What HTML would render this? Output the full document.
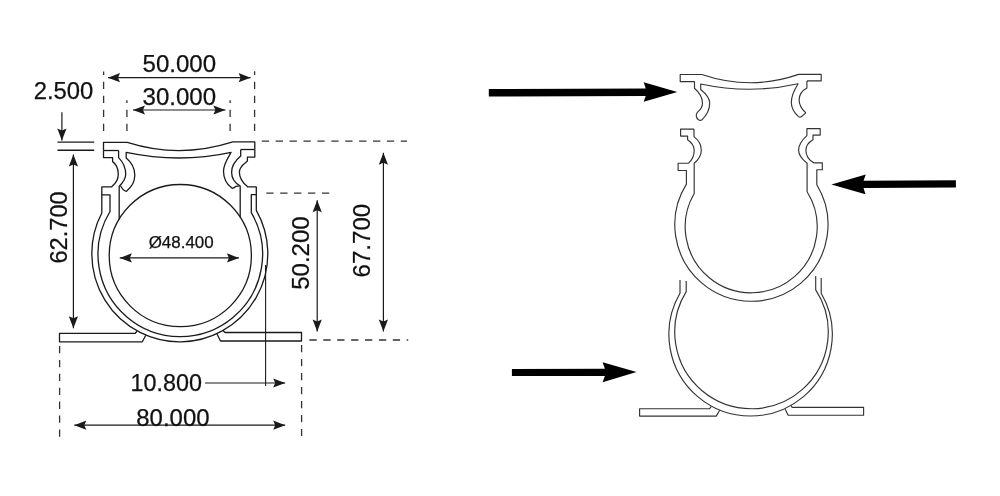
<!DOCTYPE html>
<html><head><meta charset="utf-8"><title>Drawing</title>
<style>
html,body{margin:0;padding:0;background:#fff;width:1000px;height:496px;overflow:hidden;}
svg{display:block;will-change:transform;}
text{font-family:"Liberation Sans",sans-serif;fill:#111;stroke:#111;stroke-width:0.25px;}
</style></head>
<body>
<svg width="1000" height="496" viewBox="0 0 1000 496">
<path d="M103.5 150.5 V142.4 H127.3 Q179.5 159 232.8 141.9 H254.8 V149.5" fill="none" stroke="#1a1a1a" stroke-width="1.3" stroke-linejoin="round"/>
<path d="M103.5 150.5 H118.6" fill="none" stroke="#1a1a1a" stroke-width="1.3" stroke-linejoin="round"/>
<path d="M254.8 149.5 H240.7" fill="none" stroke="#1a1a1a" stroke-width="1.3" stroke-linejoin="round"/>
<path d="M120.5 185.8 C122 188.5 124 191 126.2 191.4 C130.5 188 134.8 182 134.8 175.2 C134.8 168.5 131 162 126.2 158.1 V152.4 Q179.5 163.6 231.1 152.3 C228 158 223.5 164 223.5 171.2 C223.5 178 227 184.5 232.1 188.3 C234 188 235 187.3 236.1 186.3 L239.7 185.8" fill="none" stroke="#1a1a1a" stroke-width="1.3" stroke-linejoin="round"/>
<path d="M118.6 150.5 V157.6 C122.5 161.5 125.7 168 125.7 174.2 C125.7 179 122.5 183 119.2 186.3 V219.54" fill="none" stroke="#1a1a1a" stroke-width="1.3" stroke-linejoin="round"/>
<path d="M240.7 149.5 V156.1 C235.5 160.5 231.6 166 231.6 172.2 C231.6 178 235 183 240.2 186 V217.6" fill="none" stroke="#1a1a1a" stroke-width="1.3" stroke-linejoin="round"/>
<path d="M103.5 150.5 V157.6 H112.6 V161.6 C116 164 118.3 169 118.3 174.2 C118.3 179 115.5 183.5 112.1 186.3 L111.8 186.8 H101.8 V213.06 A88.0 88.0 0 1 0 256.3 210.31 V186.8 H247.5 L247.2 186.3 C242.5 182.5 239.4 177 239.4 172.2 C239.4 168.5 242 165.5 245.7 162.6 L247.4 161.1 V157.1 H254.8 V149.5" fill="none" stroke="#1a1a1a" stroke-width="1.3" stroke-linejoin="round"/>
<path d="M101.8 194.8 H110 V211.51 A82.3 82.3 0 1 0 251.3 212.68 V194.7 H256.3" fill="none" stroke="#1a1a1a" stroke-width="1.3" stroke-linejoin="round"/>
<circle cx="180.3" cy="255.6" r="71.1" fill="none" stroke="#1a1a1a" stroke-width="1.3"/>
<path d="M137 331.3 L135.2 333.3 H59.5 V341.8 H142.3 L145.8 335.3" fill="none" stroke="#1a1a1a" stroke-width="1.3" stroke-linejoin="round"/>
<path d="M223 330.5 L225 332.5 H301.5 V341 H220.5 L217 334" fill="none" stroke="#1a1a1a" stroke-width="1.3" stroke-linejoin="round"/>
<path d="M103.6 71.6 V132" fill="none" stroke="#333" stroke-width="1.3" stroke-dasharray="7.3 6.70" stroke-dashoffset="3.80"/>
<path d="M254.6 71.2 V132" fill="none" stroke="#333" stroke-width="1.3" stroke-dasharray="7.3 6.70" stroke-dashoffset="3.40"/>
<path d="M108 77.7 H250.6" stroke="#1a1a1a" stroke-width="1.2"/>
<path d="M108.00 77.70 L120.00 73.10 L118.00 77.70 L120.00 82.30 Z" fill="#1a1a1a"/>
<path d="M250.60 77.70 L238.60 82.30 L240.60 77.70 L238.60 73.10 Z" fill="#1a1a1a"/>
<path d="M126.9 100.3 V132" fill="none" stroke="#333" stroke-width="1.3" stroke-dasharray="7.3 6.70" stroke-dashoffset="4.50"/>
<path d="M230.1 100.3 V132" fill="none" stroke="#333" stroke-width="1.3" stroke-dasharray="7.3 6.70" stroke-dashoffset="4.50"/>
<path d="M133 110 H225.4" stroke="#1a1a1a" stroke-width="1.2"/>
<path d="M133.00 110.00 L145.00 105.40 L143.00 110.00 L145.00 114.60 Z" fill="#1a1a1a"/>
<path d="M225.40 110.00 L213.40 114.60 L215.40 110.00 L213.40 105.40 Z" fill="#1a1a1a"/>
<path d="M61.9 112.3 V140.5" stroke="#1a1a1a" stroke-width="1.2"/>
<path d="M61.90 140.50 L57.30 128.50 L61.90 130.50 L66.50 128.50 Z" fill="#1a1a1a"/>
<path d="M57.5 142.1 H94.2 M57.5 150.2 H94.2" stroke="#1a1a1a" stroke-width="1.4"/>
<path d="M73.4 154.6 V328.3" stroke="#1a1a1a" stroke-width="1.2"/>
<path d="M73.40 154.60 L78.00 166.60 L73.40 164.60 L68.80 166.60 Z" fill="#1a1a1a"/>
<path d="M73.40 328.30 L68.80 316.30 L73.40 318.30 L78.00 316.30 Z" fill="#1a1a1a"/>
<path d="M119.8 257.9 H238.9" stroke="#1a1a1a" stroke-width="1.2"/>
<path d="M119.80 257.90 L131.80 253.30 L129.80 257.90 L131.80 262.50 Z" fill="#1a1a1a"/>
<path d="M238.90 257.90 L226.90 262.50 L228.90 257.90 L226.90 253.30 Z" fill="#1a1a1a"/>
<path d="M261.8 141.2 H407" fill="none" stroke="#333" stroke-width="1.3" stroke-dasharray="7.3 6.60" stroke-dashoffset="0.00"/>
<path d="M266.3 193.2 H330" fill="none" stroke="#333" stroke-width="1.3" stroke-dasharray="7.3 6.60" stroke-dashoffset="0.00"/>
<path d="M309.4 340 H408.2" fill="none" stroke="#333" stroke-width="1.3" stroke-dasharray="7.3 6.60" stroke-dashoffset="0.00"/>
<path d="M317.2 200.2 V331.5" stroke="#1a1a1a" stroke-width="1.2"/>
<path d="M317.20 200.20 L321.80 212.20 L317.20 210.20 L312.60 212.20 Z" fill="#1a1a1a"/>
<path d="M317.20 331.50 L312.60 319.50 L317.20 321.50 L321.80 319.50 Z" fill="#1a1a1a"/>
<path d="M383.4 152.7 V331.5" stroke="#1a1a1a" stroke-width="1.2"/>
<path d="M383.40 152.70 L388.00 164.70 L383.40 162.70 L378.80 164.70 Z" fill="#1a1a1a"/>
<path d="M383.40 331.50 L378.80 319.50 L383.40 321.50 L388.00 319.50 Z" fill="#1a1a1a"/>
<path d="M265.6 265 V386" stroke="#1a1a1a" stroke-width="1.1"/>
<path d="M205.1 383 H285.2" stroke="#1a1a1a" stroke-width="1.2"/>
<path d="M285.20 383.00 L273.20 387.60 L275.20 383.00 L273.20 378.40 Z" fill="#1a1a1a"/>
<path d="M59.6 346 V437" fill="none" stroke="#333" stroke-width="1.3" stroke-dasharray="7.3 6.60" stroke-dashoffset="0.00"/>
<path d="M301.6 345 V436" fill="none" stroke="#333" stroke-width="1.3" stroke-dasharray="7.3 6.70" stroke-dashoffset="0.00"/>
<path d="M74.3 425.2 H285.2" stroke="#1a1a1a" stroke-width="1.2"/>
<path d="M74.30 425.20 L86.30 420.60 L84.30 425.20 L86.30 429.80 Z" fill="#1a1a1a"/>
<path d="M285.20 425.20 L273.20 429.80 L275.20 425.20 L273.20 420.60 Z" fill="#1a1a1a"/>
<text x="142.5" y="71.5" font-size="23.5" textLength="73.6" lengthAdjust="spacingAndGlyphs">50.000</text>
<text x="142.5" y="105.0" font-size="23.5" textLength="73.6" lengthAdjust="spacingAndGlyphs">30.000</text>
<text x="33.7" y="98.8" font-size="23.5" textLength="59.6" lengthAdjust="spacingAndGlyphs">2.500</text>
<text x="130.5" y="390.6" font-size="23.5" textLength="71.5" lengthAdjust="spacingAndGlyphs">10.800</text>
<text x="136.3" y="425.8" font-size="23.5" textLength="73.3" lengthAdjust="spacingAndGlyphs">80.000</text>
<text x="148.7" y="248.1" font-size="15.6" textLength="65" lengthAdjust="spacingAndGlyphs">&#216;48.400</text>
<text font-size="23.5" textLength="72.4" lengthAdjust="spacingAndGlyphs" transform="translate(67.2 263.6) rotate(-90)">62.700</text>
<text font-size="23.5" textLength="73.4" lengthAdjust="spacingAndGlyphs" transform="translate(309.3 289.8) rotate(-90)">50.200</text>
<text font-size="23.5" textLength="73.6" lengthAdjust="spacingAndGlyphs" transform="translate(370.2 277.4) rotate(-90)">67.700</text>
<path d="M694.5 81.6 H680.2 V74.5 H701.8 Q750.45 91 798.6 74.4 H821.2 V80.9 H806.9" fill="none" stroke="#333" stroke-width="1.15" stroke-linejoin="round"/>
<path d="M694.5 81.6 V88.2 C700 93 702.5 98 702.5 103.2 C702.5 107 700 110 697.6 112.2 C695.5 114.5 696 118 698.5 119.8 C700 120.8 701 120.6 702 119.8 C707 115 709.7 109 709.7 103.1 C709.7 97 705 93 700.7 89.5 V84 Q750.45 94.65 798.1 83.8 C795.5 88 791.3 95 791.3 102.3 C791.3 108 795 113.5 798.5 116.6 C799.5 117.4 800.5 117.3 801.5 116.5 C803 115.3 804.5 114 805.7 112.8 C801.5 109 799.1 105 799.1 100 C799.1 95 802.5 90.5 806.9 88.1 V80.9" fill="none" stroke="#333" stroke-width="1.15" stroke-linejoin="round"/>
<path d="M694 129.1 V136.6 C698.5 140 701.3 145 701.3 150.2 C701.3 156 698 160 694.2 163.3 V193.53 A66.0 66.0 0 1 0 807.1 191.71 V163.3 C803 160 798.6 156 798.6 150.2 C798.6 145 802 140 806.9 135.6 V128.6 H820.2 V135.1 H813 V139.7 C809 142 805.9 146 805.9 150.2 C805.9 156 809 160 813.7 162.8 H822.3 V169.7 H816.8 V184.82 A76.6 76.6 0 1 1 686.4 184.17 V170.5 H678.1 V163.2 H688.6 C692 160 694.2 156 694.2 150.2 C694.2 146 691 142 687.6 139.7 V136.1 H680.6 V129.1 H694" fill="none" stroke="#333" stroke-width="1.15" stroke-linejoin="round"/>
<path d="M680 280 V293.18 A81.7 81.7 0 1 0 821.2 293.18 V278" fill="none" stroke="#333" stroke-width="1.15" stroke-linejoin="round"/>
<path d="M686.2 280.9 V291.67 A76.75 76.75 0 1 0 815.7 289.94 V276" fill="none" stroke="#333" stroke-width="1.15" stroke-linejoin="round"/>
<path d="M711.2 406.7 L709.6 408.7 H639.6 V416.1 H716.2 L719.7 410.2" fill="none" stroke="#333" stroke-width="1.15" stroke-linejoin="round"/>
<path d="M791.2 405.5 L792 407.4 H863.6 V415.2 H788.2 L785.2 409.2" fill="none" stroke="#333" stroke-width="1.15" stroke-linejoin="round"/>
<path d="M488.8 89 L645.7 88.4 L643.7 82.2 L677.3 92.1 L643.7 101.7 L645.7 96.1 L488.8 96.6 Z" fill="#000"/>
<path d="M955.9 180.2 L863.5 180.7 L865.8 174.5 L831.4 184.6 L865.5 194.3 L863.5 188.1 L955.9 187.5 Z" fill="#000"/>
<path d="M511.9 369 L604.9 368.7 L602.6 362.2 L636.5 372.1 L602.6 382.3 L604.9 375.9 L511.9 376.1 Z" fill="#000"/>
</svg>
</body></html>
